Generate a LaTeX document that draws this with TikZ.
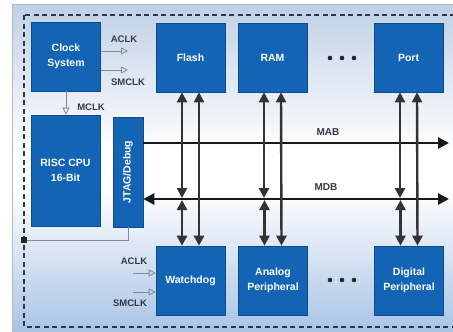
\documentclass[tikz,border=0pt]{standalone}
\usepackage{fontspec}
\setmainfont{Liberation Sans}
\usepackage{graphicx}
\usetikzlibrary{positioning, arrows.meta}
\definecolor{blockblue}{RGB}{20,100,182}
\definecolor{blockedge}{RGB}{14,74,142}
\definecolor{bgtop}{RGB}{192,208,230}
\definecolor{bgbottom}{RGB}{164,192,228}
\definecolor{thinline}{RGB}{128,138,150}
\definecolor{labelgray}{RGB}{52,58,66}
\definecolor{borderdash}{RGB}{44,56,72}

\begin{document}
\begin{tikzpicture}[x=1pt, y=-1pt,
    every block/.style={rectangle, draw=blockedge, fill=blockblue, line width=0.6pt, minimum width=69pt, minimum height=69pt, inner sep=1pt, text=white, font=\fontsize{10.5}{15}\selectfont\bfseries, align=center},
    sig label/.style={font=\fontsize{9.5}{11}\selectfont\bfseries, text=labelgray},
    clock arrow/.style={draw=thinline, line width=0.8pt, -{Triangle[open, length=7pt, width=7pt]}},
    bus/.style={line width=2.7pt, draw=black!90},
    bus tip/.style={-{Triangle[length=11pt, width=11pt]}},
    link/.style={line width=2.4pt, draw=black!80, {Triangle[length=10pt, width=10pt]}-{Triangle[length=10pt, width=10pt]}}]

    \useasboundingbox (0,0) rectangle (453,332);
    \clip (0,0) rectangle (453,332);

    % Background with gradient
    \shade[top color=bgtop, bottom color=white] (12,4) rectangle (470,152);
    \fill[white] (12,150) rectangle (470,192);
    \shade[top color=white, bottom color=bgbottom] (12,190) rectangle (470,340);
    \draw[gray!55, line width=0.8pt] (12,340) -- (12,4) -- (470,4);

    % Dashed border
    \draw[borderdash, line width=1.6pt, dash pattern=on 5pt off 3.5pt] (24,15) rectangle (480,327);

    % Top row of blocks
    \node[every block] (Clock) at (66,56.5) {Clock\\System};
    \node[every block] (Flash) at (190.5,57.5) {Flash};
    \node[every block] (RAM) at (272.5,57.5) {RAM};
    \node[every block] (Port) at (408.5,57.5) {Port};

    % CPU and debug blocks
    \node[every block, minimum height=111pt] (CPU) at (65.5,170.5) {RISC CPU\\16-Bit};
    \node[every block, minimum width=30pt, minimum height=110pt] (JTAG) at (128,172) {\rotatebox{90}{JTAG/Debug}};

    % Bottom row of blocks
    \node[every block] (Watch) at (190.5,280.5) {Watchdog};
    \node[every block] (Analog) at (273,280.5) {Analog\\Peripheral};
    \node[every block] (Digital) at (409,280.5) {Digital\\Peripheral};

    % Dots between blocks
    \foreach \y in {58, 280}
        \foreach \dx in {-12, 0, 12}
            \fill[black!85] (342+\dx,\y) circle (2.3pt);

    % Address and data buses
    \coordinate (mab-end) at (449,143);
    \coordinate (mdb-end) at (449,199);
    \draw[bus, bus tip] (JTAG.east |- mab-end) -- (mab-end);
    \draw[bus, {Triangle[length=11pt, width=11pt]}-{Triangle[length=11pt, width=11pt]}] (JTAG.east |- mdb-end) -- (mdb-end);
    \node[sig label, font=\fontsize{10}{12}\selectfont\bfseries] (mab-label) at (328,132) {MAB};
    \node[sig label, font=\fontsize{10}{12}\selectfont\bfseries] (mdb-label) at (326,187) {MDB};

    % Connections from blocks to buses
    \foreach \t/\b in {Flash/Watch, RAM/Analog, Port/Digital} {
        \coordinate (\t-l) at ([xshift=-8.5pt]\t.south);
        \coordinate (\b-l) at ([xshift=-8.5pt]\b.north);
        \draw[link, shorten >=1pt] (\t-l) -- (\t-l |- mdb-end);
        \draw[link, shorten >=1pt] (\b-l) -- (\b-l |- mdb-end);
        \draw[link] ([xshift=8.5pt]\t.south) -- ([xshift=8.5pt]\b.north);
    }

    % Clock signals
    \coordinate (aclk-out) at (128,51);
    \coordinate (smclk-out) at (128,70);
    \draw[clock arrow] (Clock.east |- aclk-out) -- (aclk-out);
    \draw[clock arrow] (Clock.east |- smclk-out) -- (smclk-out);
    \draw[clock arrow] (Clock.south) -- (Clock.south |- CPU.north);
    \node[sig label] (aclk-top) at (124,39) {ACLK};
    \node[sig label] (smclk-top) at (128,82) {SMCLK};
    \node[sig label] (mclk) at (91,107) {MCLK};

    \coordinate (aclk-in) at (133,273);
    \coordinate (smclk-in) at (133,292);
    \draw[clock arrow] (aclk-in) -- (aclk-in -| Watch.west);
    \draw[clock arrow] (smclk-in) -- (smclk-in -| Watch.west);
    \node[sig label] (aclk-bot) at (134,261) {ACLK};
    \node[sig label] (smclk-bot) at (130,303) {SMCLK};

    % Debug pin on the border
    \node[fill=black!85, minimum size=6pt, inner sep=0pt] (pin) at (24,240) {};
    \draw[thinline, line width=0.7pt] (JTAG.south) |- (pin);

\end{tikzpicture}
\end{document}
